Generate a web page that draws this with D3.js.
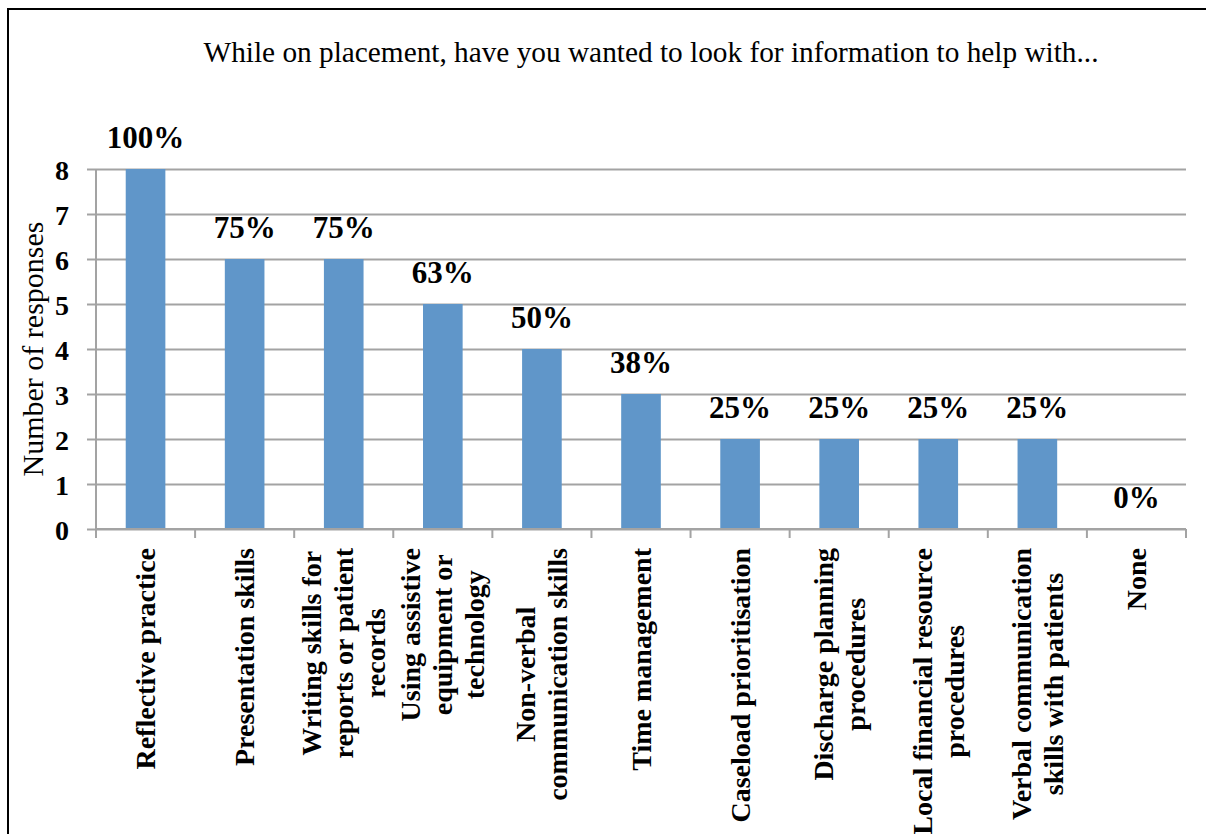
<!DOCTYPE html>
<html>
<head>
<meta charset="utf-8">
<script src="https://cdn.jsdelivr.net/npm/d3@7"></script>
<style>
  html, body { margin: 0; padding: 0; background: #fff; }
  svg { display: block; }
  text { font-family: "Liberation Serif", "Times New Roman", serif; fill: #000; }
</style>
</head>
<body>
<svg id="chart" width="1206" height="834"></svg>
<script>
// Survey responses: how many of the 8 respondents wanted information on each topic
const categories = [
  ["Reflective practice"],
  ["Presentation skills"],
  ["Writing skills for", "reports or patient", "records"],
  ["Using assistive", "equipment or", "technology"],
  ["Non-verbal", "communication skills"],
  ["Time management"],
  ["Caseload prioritisation"],
  ["Discharge planning", "procedures"],
  ["Local financial resource", "procedures"],
  ["Verbal communication", "skills with patients"],
  ["None"]
];
const responses = [8, 6, 6, 5, 4, 3, 2, 2, 2, 2, 0];
const respondents = 8;
const yTicks = [0, 1, 2, 3, 4, 5, 6, 7, 8];
const titleText = "While on placement, have you wanted to look for information to help with...";
const yAxisTitle = "Number of responses";

const svg = d3.select("#chart");

const plot = { left: 96, right: 1186, top: 169, bottom: 529 };
const gridColor = "#a3a3a3";
const barColor = "#6096c9";

// outer frame
svg.append("rect")
  .attr("x", 8).attr("y", 9)
  .attr("width", 1220).attr("height", 850)
  .attr("fill", "none").attr("stroke", "#000").attr("stroke-width", 2);

const keys = categories.map((c, i) => i);
const x = d3.scaleBand()
  .domain(keys)
  .range([plot.left, plot.right])
  .paddingInner(0.6)
  .paddingOuter(0.3);

const y = d3.scaleLinear()
  .domain([0, 8])
  .range([plot.bottom, plot.top]);

// horizontal gridlines + y ticks
const yAxis = d3.axisLeft(y)
  .tickValues(yTicks)
  .tickSize(-(plot.right - plot.left))
  .tickPadding(0)
  .tickFormat(d3.format("d"));

const gy = svg.append("g")
  .attr("transform", `translate(${plot.left},0)`)
  .call(yAxis);
gy.select(".domain").remove();
gy.selectAll(".tick line")
  .attr("x1", -9)
  .attr("stroke", gridColor)
  .attr("stroke-width", 2);
gy.selectAll(".tick text")
  .attr("x", -27)
  .attr("dy", "0.36em")
  .style("font-family", '"Liberation Serif", "Times New Roman", serif')
  .style("font-size", "28px")
  .style("font-weight", "bold")
  .attr("fill", "#000");

// category axis: ticks between bands
const step = x.step();
const boundaries = d3.range(categories.length + 1).map(i => plot.left + i * step);
svg.append("g").selectAll("line")
  .data(boundaries)
  .join("line")
  .attr("x1", d => d).attr("x2", d => d)
  .attr("y1", plot.bottom).attr("y2", plot.bottom + 9)
  .attr("stroke", gridColor).attr("stroke-width", 2);

// y axis line
svg.append("line")
  .attr("x1", plot.left).attr("x2", plot.left)
  .attr("y1", plot.top).attr("y2", plot.bottom)
  .attr("stroke", gridColor).attr("stroke-width", 2);

// bars
svg.append("g").selectAll("rect")
  .data(responses)
  .join("rect")
  .attr("x", (d, i) => x(i))
  .attr("width", x.bandwidth())
  .attr("y", d => y(d))
  .attr("height", d => y(0) - y(d))
  .attr("fill", barColor);

// x axis base line
svg.append("line")
  .attr("x1", plot.left).attr("x2", plot.right)
  .attr("y1", plot.bottom).attr("y2", plot.bottom)
  .attr("stroke", gridColor).attr("stroke-width", 2);

// percentage labels above bars
svg.append("g").selectAll("text")
  .data(responses)
  .join("text")
  .attr("x", (d, i) => x(i) + x.bandwidth() / 2)
  .attr("y", d => y(d) - 21)
  .attr("text-anchor", "middle")
  .style("font-size", "31px")
  .style("font-weight", "bold")
  .text(d => Math.round(d / respondents * 100) + "%");

// rotated category labels, lines centred on the longest one
const lineH = 32;
const labelTop = plot.bottom + 19;
categories.forEach((lines, i) => {
  const cx = x(i) + x.bandwidth() / 2;
  const g = svg.append("g");
  const texts = lines.map((ln, j) => {
    const bx = cx + (j - (lines.length - 1) / 2) * lineH + 9.5;
    return g.append("text")
      .attr("text-anchor", "middle")
      .style("font-size", "28px")
      .style("font-weight", "bold")
      .datum(bx)
      .text(ln);
  });
  const maxLen = d3.max(texts, t => t.node().getComputedTextLength());
  const cy = labelTop + maxLen / 2;
  texts.forEach(t => {
    t.attr("transform", `translate(${t.datum()},${cy}) rotate(-90)`);
  });
});

// y axis title
svg.append("text")
  .attr("transform", `translate(43,${(plot.top + plot.bottom) / 2}) rotate(-90)`)
  .attr("text-anchor", "middle")
  .style("font-size", "30px")
  .text(yAxisTitle);

// chart title
svg.append("text")
  .attr("x", 651)
  .attr("y", 62)
  .attr("text-anchor", "middle")
  .style("font-size", "29.3px")
  .text(titleText);
</script>
</body>
</html>
